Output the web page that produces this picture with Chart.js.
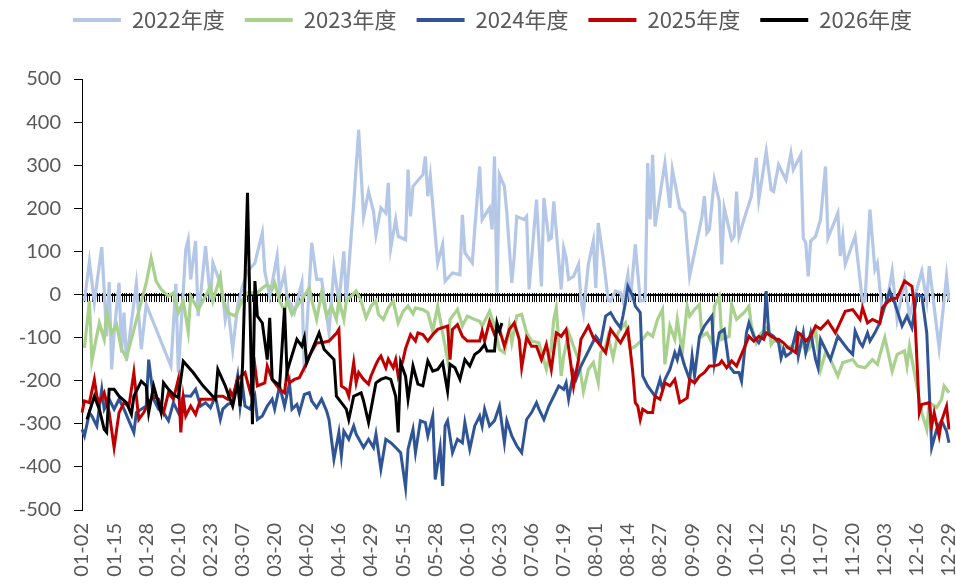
<!DOCTYPE html>
<html>
<head>
<meta charset="utf-8">
<script src="https://cdn.jsdelivr.net/npm/chart.js@4.4.1/dist/chart.umd.min.js"></script>
<style>
  html, body { margin: 0; padding: 0; background: #fff; }
  #wrap { width: 956px; height: 584px; }
</style>
</head>
<body>
<div id="wrap"><canvas id="chart" width="956" height="584"></canvas></div>
<script>
// Days that are not in the category axis (holidays)
const skipDays = ['04-04', '05-01', '05-02', '05-03', '10-01', '10-02', '10-03', '10-04', '10-05', '10-06', '10-07'];

// Tick labels shown on the x axis
const tickLabels = ['01-02', '01-15', '01-28', '02-10', '02-23', '03-07', '03-20', '04-02', '04-16', '04-29',
    '05-15', '05-28', '06-10', '06-23', '07-06', '07-19', '08-01', '08-14', '08-27', '09-09', '09-22',
    '10-12', '10-25', '11-07', '11-20', '12-03', '12-16', '12-29'];

const seriesNames = ['2022年度', '2023年度', '2024年度', '2025年度', '2026年度'];
const seriesColors = ['#B4C7E7', '#A9D18E', '#2F5597', '#C00000', '#000000'];

// [category index, value]
const data2022 = [[1,-15],[3,77],[5,-18],[8,110],[10,-97],[11,29],[12,-174],[13,-89],[15,27],[16,-135],[17,-42],[18,-154],
    [22,25],[24,-127],[26,-23],[36,-166],[38,25],[39,-181],[42,104],[43,127],[44,35],[46,124],[47,-50],[48,-4],[50,112],
    [52,-12],[53,73],[55,42],[57,0],[58,-58],[59,-27],[61,-127],[63,-27],[65,19],[67,54],[70,73],[71,97],[73,143],[74,54],
    [76,-4],[77,27],[79,89],[80,4],[82,50],[83,-4],[85,-27],[86,-42],[89,27],[90,-181],[93,120],[95,35],[97,35],[100,-89],
    [102,62],[104,-19],[106,100],[107,-15],[110,212],[112,382],[114,181],[116,239],[118,193],[119,139],[121,201],[123,189],
    [124,259],[125,108],[127,174],[128,135],[131,127],[132,290],[133,181],[134,251],[138,278],[139,320],[140,228],[141,274],
    [144,73],[146,116],[147,31],[150,50],[153,46],[154,185],[155,97],[158,73],[159,151],[161,297],[162,174],[165,201],
    [166,151],[167,320],[168,4],[169,278],[171,251],[172,189],[174,27],[175,89],[176,181],[179,174],[180,181],[181,12],
    [184,220],[186,19],[187,224],[189,127],[190,131],[191,216],[194,12],[195,108],[196,85],[197,35],[199,42],[201,70],
    [202,-12],[203,-42],[205,70],[207,124],[208,15],[209,166],[211,85],[213,-12],[214,-15],[216,8],[218,4],[219,-15],
    [221,46],[222,-15],[224,116],[226,-15],[228,-12],[229,305],[230,174],[231,324],[232,158],[236,305],[238,201],[239,290],
    [242,201],[244,189],[246,42],[251,181],[252,228],[253,143],[254,151],[256,266],[258,216],[259,70],[260,201],[263,127],
    [264,135],[265,239],[266,135],[268,174],[271,228],[273,317],[274,220],[277,332],[279,243],[280,239],[282,301],[285,266],
    [287,328],[288,290],[291,324],[292,131],[293,120],[294,42],[295,124],[297,135],[299,174],[301,297],[302,131],[306,189],
    [307,89],[308,135],[309,70],[313,135],[316,-19],[317,-15],[319,197],[321,58],[322,73],[324,-42],[326,-12],[328,54],
    [330,-58],[333,35],[335,-50],[340,54],[342,-15],[343,66],[347,-124],[350,42],[351,-15]];

const data2023 = [[1,-124],[3,-15],[4,-154],[7,-66],[9,-104],[10,-42],[12,-89],[14,-70],[16,-127],[18,-147],[26,27],[28,85],
    [30,31],[32,12],[35,-4],[37,4],[39,-42],[41,-15],[43,-87],[44,-4],[47,-35],[50,-4],[52,19],[53,-15],[56,42],[57,-12],
    [59,-42],[62,-50],[65,-12],[67,4],[71,4],[73,15],[75,23],[77,12],[78,27],[80,-15],[82,-39],[83,-15],[85,-46],[87,-27],
    [89,-12],[92,15],[93,-12],[95,-58],[97,4],[99,-50],[101,-27],[103,-58],[104,-12],[106,-58],[107,-15],[109,-4],[111,8],
    [113,-15],[115,-54],[117,-27],[119,-15],[120,-46],[122,-58],[124,-31],[126,-15],[128,-66],[130,-39],[132,-27],[134,-45],
    [135,-31],[138,-35],[140,-42],[142,-85],[144,-27],[146,-89],[148,-151],[149,-58],[152,-35],[154,-73],[156,-50],[159,-58],
    [161,-62],[162,-73],[165,-39],[167,-73],[169,-127],[171,-135],[172,-108],[173,-73],[174,-112],[176,-50],[178,-46],
    [180,-89],[182,-108],[185,-112],[188,-174],[190,-120],[191,-58],[192,-31],[194,-189],[195,-143],[197,-89],[199,-120],
    [201,-151],[203,-225],[205,-174],[207,-158],[209,-205],[210,-135],[212,-120],[213,-97],[215,-147],[217,-89],[219,-73],
    [220,-66],[222,-127],[224,-120],[227,-104],[229,-89],[231,-97],[233,-58],[235,-35],[236,-162],[238,-73],[240,-104],
    [241,-58],[243,-135],[245,-27],[246,-50],[248,-35],[250,-23],[251,-97],[253,-89],[255,-112],[256,-27],[258,-4],[259,-104],
    [262,-97],[263,-23],[265,-58],[268,-42],[270,-27],[271,-73],[273,-112],[275,-89],[278,-73],[279,-116],[280,-108],
    [282,-108],[284,-127],[287,-120],[289,-127],[291,-97],[293,-135],[295,-120],[297,-81],[299,-175],[301,-135],[303,-151],
    [306,-189],[308,-158],[312,-151],[314,-166],[317,-170],[320,-151],[322,-162],[324,-120],[325,-100],[328,-178],[330,-139],
    [333,-131],[334,-166],[335,-120],[340,-274],[342,-313],[343,-251],[346,-262],[348,-243],[349,-212],[351,-228]];

const data2024 = [[0,-313],[1,-328],[3,-274],[4,-282],[6,-305],[8,-220],[9,-266],[11,-243],[13,-266],[15,-243],[17,-266],
    [21,-320],[22,-274],[24,-266],[26,-259],[27,-151],[29,-243],[31,-266],[33,-274],[35,-293],[37,-251],[39,-274],[41,-235],
    [44,-236],[46,-220],[48,-259],[50,-251],[52,-263],[54,-236],[56,-290],[57,-266],[59,-255],[61,-251],[63,-189],[64,-259],
    [65,-212],[66,-259],[68,-266],[70,-236],[71,-290],[73,-282],[75,-259],[77,-243],[78,-266],[80,-212],[82,-259],[84,-205],
    [85,-266],[87,-255],[88,-274],[90,-232],[92,-228],[93,-247],[95,-263],[97,-243],[99,-270],[100,-290],[102,-382],[104,-320],
    [105,-374],[106,-317],[108,-336],[110,-305],[111,-324],[114,-355],[116,-336],[118,-355],[119,-324],[121,-405],[123,-336],
    [125,-344],[127,-355],[129,-367],[131,-448],[132,-359],[134,-313],[135,-367],[137,-293],[139,-297],[140,-328],[142,-282],
    [143,-429],[145,-355],[146,-444],[147,-305],[148,-293],[150,-367],[152,-336],[154,-344],[155,-297],[157,-359],[159,-305],
    [161,-282],[162,-305],[163,-266],[165,-305],[167,-293],[169,-259],[171,-344],[172,-293],[174,-328],[176,-351],[178,-367],
    [180,-290],[182,-274],[184,-251],[185,-266],[187,-290],[189,-259],[191,-236],[193,-212],[195,-220],[196,-205],[197,-243],
    [199,-181],[200,-197],[202,-166],[204,-143],[206,-120],[208,-97],[210,-112],[212,-50],[214,-42],[216,-62],[218,-77],
    [219,-50],[220,-19],[221,19],[223,-4],[224,-27],[226,-42],[227,-189],[229,-212],[232,-236],[234,-197],[235,-220],
    [236,-197],[238,-174],[240,-135],[241,-151],[242,-127],[244,-166],[246,-197],[247,-143],[248,-189],[250,-97],[252,-73],
    [255,-50],[256,-158],[258,-89],[260,-81],[262,-166],[264,-181],[266,-181],[267,-201],[269,-89],[270,-66],[272,-97],
    [274,-112],[276,-89],[277,8],[278,-89],[280,-97],[282,-112],[283,-147],[284,-127],[285,-143],[287,-135],[289,-89],
    [290,-143],[292,-89],[293,-135],[295,-89],[297,-151],[298,-170],[299,-104],[303,-151],[306,-97],[310,-127],[312,-139],
    [313,-85],[315,-112],[316,-120],[318,-89],[319,-108],[321,-89],[323,-66],[325,-27],[327,8],[329,-19],[332,-73],[334,-50],
    [336,-77],[338,0],[340,-4],[342,-89],[344,-355],[346,-313],[348,-293],[350,-317],[351,-344]];

const data2025 = [[0,-274],[1,-247],[3,-251],[5,-197],[6,-236],[7,-251],[9,-228],[11,-274],[13,-355],[15,-274],[17,-251],
    [19,-259],[21,-181],[23,-290],[25,-274],[27,-251],[29,-236],[31,-243],[33,-274],[35,-228],[37,-243],[39,-197],[40,-320],
    [41,-240],[42,-282],[44,-259],[46,-278],[48,-243],[50,-243],[53,-243],[55,-236],[57,-236],[59,-243],[60,-224],[61,-236],
    [63,-197],[66,-181],[68,-224],[70,-166],[71,-212],[74,-205],[75,-166],[77,-197],[80,-220],[82,-228],[83,-181],[84,-205],
    [86,-197],[88,-193],[91,-158],[92,-143],[95,-112],[97,-112],[100,-108],[103,-90],[104,-81],[105,-212],[107,-220],
    [108,-236],[110,-158],[111,-205],[112,-181],[114,-197],[116,-208],[117,-189],[119,-162],[120,-151],[121,-143],[123,-170],
    [124,-150],[126,-170],[127,-151],[128,-189],[130,-151],[131,-125],[133,-93],[135,-108],[136,-89],[138,-93],[140,-108],
    [142,-93],[144,-81],[146,-77],[148,-73],[149,-151],[150,-81],[152,-70],[154,-97],[156,-108],[159,-108],[161,-108],
    [162,-85],[163,-108],[165,-62],[167,-93],[169,-81],[171,-120],[173,-81],[175,-66],[177,-104],[178,-170],[180,-100],
    [182,-120],[184,-120],[186,-151],[188,-116],[190,-174],[192,-89],[194,-97],[196,-81],[198,-166],[199,-213],[201,-151],
    [202,-104],[205,-73],[207,-100],[209,-112],[210,-120],[212,-135],[214,-81],[218,-112],[221,-81],[223,-181],[224,-251],
    [225,-259],[226,-290],[227,-266],[229,-274],[231,-274],[232,-236],[234,-243],[236,-205],[238,-212],[240,-197],[242,-251],
    [245,-240],[246,-197],[248,-205],[250,-189],[252,-181],[254,-166],[256,-166],[258,-162],[259,-154],[261,-170],[263,-154],
    [265,-166],[267,-139],[269,-112],[270,-97],[272,-108],[274,-97],[276,-104],[277,-89],[279,-97],[281,-104],[282,-104],
    [284,-112],[286,-124],[287,-127],[289,-135],[290,-89],[291,-93],[293,-108],[295,-97],[297,-73],[299,-80],[302,-62],
    [305,-89],[309,-39],[312,-35],[315,-58],[316,-31],[318,-66],[320,-58],[323,-66],[324,-31],[327,-12],[330,-8],[333,31],
    [336,19],[337,-27],[339,-274],[340,-255],[343,-251],[344,-305],[345,-274],[347,-328],[348,-293],[350,-259],[351,-313]];

const data2026 = [[2,-290],[5,-236],[7,-266],[9,-313],[10,-320],[11,-220],[13,-220],[15,-236],[18,-251],[20,-278],[21,-236],
    [24,-201],[26,-212],[27,-274],[29,-212],[32,-274],[33,-205],[35,-220],[37,-232],[39,-239],[41,-155],[45,-181],[49,-212],
    [54,-243],[55,-174],[58,-212],[61,-259],[63,-205],[64,-259],[65,-166],[67,236],[69,-301],[70,31],[71,-50],[73,-66],
    [75,-151],[76,-54],[77,-197],[80,-212],[82,-31],[83,-181],[84,-160],[87,-104],[89,-120],[90,-100],[91,-158],[96,-89],
    [98,-127],[102,-151],[103,-236],[107,-266],[108,-290],[110,-236],[113,-228],[114,-247],[116,-297],[119,-205],[121,-197],
    [123,-193],[125,-197],[127,-236],[128,-320],[129,-158],[131,-190],[132,-243],[134,-166],[136,-208],[138,-212],[140,-154],
    [142,-178],[144,-174],[146,-158],[148,-224],[149,-162],[151,-170],[153,-197],[155,-151],[157,-166],[159,-139],[161,-131],
    [163,-116],[164,-131],[167,-131],[168,-66],[169,-85],[170,-66]];

// Build the category list: every day from 01-02 to 12-29, holidays removed
const categories = [];
for (let t = Date.UTC(2024, 0, 2); t <= Date.UTC(2024, 11, 29); t += 86400000) {
    const d = new Date(t);
    const label = String(d.getUTCMonth() + 1).padStart(2, '0') + '-' + String(d.getUTCDate()).padStart(2, '0');
    if (!skipDays.includes(label)) categories.push(label);
}

function toSeries(points) {
    const arr = new Array(categories.length).fill(null);
    points.forEach(([i, v]) => { arr[i] = v; });
    return arr;
}

const allData = [data2022, data2023, data2024, data2025, data2026];

// Horizontal axis at y = 0 with a tick mark for every category
const zeroAxis = {
    id: 'zeroAxis',
    beforeDatasetsDraw(chart) {
        const { ctx, chartArea, scales: { x, y } } = chart;
        const y0 = Math.round(y.getPixelForValue(0));
        ctx.save();
        ctx.strokeStyle = '#000';
        ctx.lineWidth = 1;
        ctx.beginPath();
        for (let i = 0; i < categories.length; i++) {
            const px = Math.round(x.getPixelForValue(i)) + 0.5;
            ctx.moveTo(px, y0 - 2);
            ctx.lineTo(px, y0 + 7);
        }
        ctx.stroke();
        ctx.lineWidth = 2;
        ctx.beginPath();
        ctx.moveTo(chartArea.left, y0);
        ctx.lineTo(chartArea.right, y0);
        ctx.stroke();
        ctx.restore();
    }
};

// Extra room below the legend, and a small shift to the right
const legendSpace = {
    id: 'legendSpace',
    beforeLayout(chart) {
        const legend = chart.legend;
        if (!legend || legend._patched) return;
        const origFit = legend.fit;
        const origDraw = legend.draw;
        legend.fit = function () {
            origFit.call(this);
            this.height += 38;
        };
        legend.draw = function () {
            this.ctx.save();
            this.ctx.translate(12, 0);
            origDraw.call(this);
            this.ctx.restore();
        };
        legend._patched = true;
    }
};

const padLeft = 12;

new Chart(document.getElementById('chart'), {
    type: 'line',
    data: {
        labels: categories,
        datasets: seriesNames.map((name, k) => ({
            label: name,
            data: toSeries(allData[k]),
            borderColor: seriesColors[k],
            backgroundColor: seriesColors[k],
            borderWidth: k < 2 ? 3.2 : 3,
            pointRadius: 0,
            tension: 0,
            spanGaps: true,
            order: 5 - k
        }))
    },
    options: {
        responsive: false,
        animation: false,
        layout: { padding: { left: padLeft, right: 7, top: -11, bottom: 0 } },
        plugins: {
            tooltip: { enabled: false },
            legend: {
                position: 'top',
                labels: {
                    usePointStyle: true,
                    pointStyle: 'line',
                    pointStyleWidth: 48,
                    boxHeight: 22,
                    padding: 20,
                    color: '#595959',
                    font: { family: '"Noto Sans CJK SC", "Noto Sans", sans-serif', size: 22 },
                    sort: (a, b) => a.datasetIndex - b.datasetIndex,
                    generateLabels: chart => Chart.defaults.plugins.legend.labels.generateLabels(chart)
                        .map(l => Object.assign(l, { lineWidth: 4 }))
                }
            }
        },
        scales: {
            x: {
                type: 'category',
                offset: false,
                grid: { display: false, drawTicks: false },
                border: { display: false },
                ticks: {
                    autoSkip: false,
                    maxRotation: 90,
                    minRotation: 90,
                    padding: 13,
                    color: '#595959',
                    font: { family: 'Lato, "Liberation Sans", sans-serif', size: 20 },
                    callback: function (value, index) {
                        const lab = categories[index];
                        return tickLabels.includes(lab) ? lab : '';
                    }
                },
                afterFit: scale => {
                    scale.height = 74;
                    scale.paddingLeft = 0;
                    scale.paddingRight = 0;
                }
            },
            y: {
                min: -500,
                max: 500,
                grid: { drawOnChartArea: false, drawTicks: true, tickLength: 8, color: '#000' },
                border: { display: true, color: '#000', width: 1 },
                ticks: {
                    stepSize: 100,
                    padding: 13,
                    color: '#595959',
                    font: { family: 'Lato, "Liberation Sans", sans-serif', size: 20 }
                },
                afterFit: scale => { scale.width = 82 - padLeft; }
            }
        }
    },
    plugins: [zeroAxis, legendSpace]
});
</script>
</body>
</html>
